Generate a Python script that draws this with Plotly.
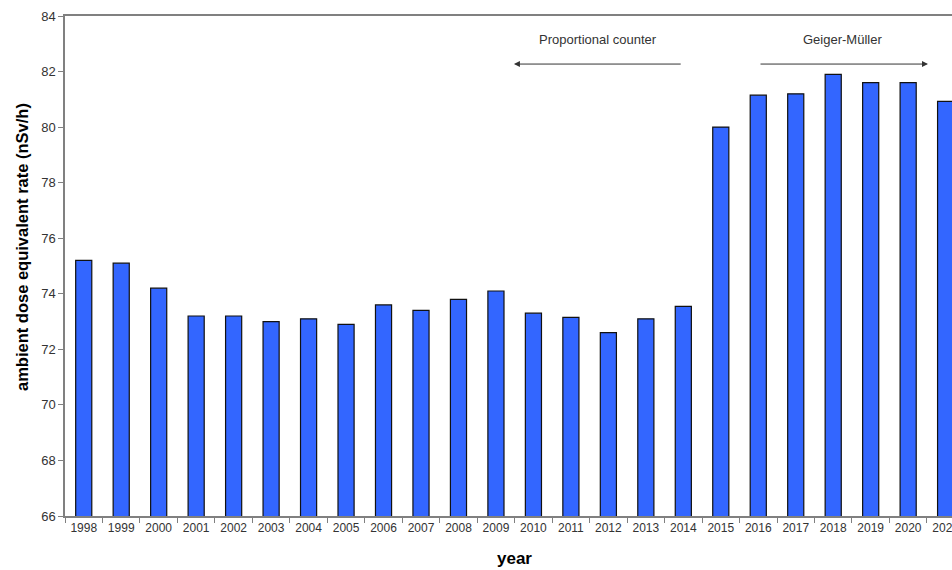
import plotly.graph_objects as go

years = [str(y) for y in range(1998, 2022)]
dose_rate = [75.2, 75.1, 74.2, 73.2, 73.2, 73.0, 73.1, 72.9, 73.6, 73.4, 73.8, 74.1,
             73.3, 73.15, 72.6, 73.1, 73.55, 80.0, 81.15, 81.2, 81.9, 81.6, 81.6, 80.93]
y_ticks = [66, 68, 70, 72, 74, 76, 78, 80, 82, 84]
switch_year = "2015"

AXIS = "#808080"
TXT = "#333333"
FONT = "Liberation Sans, Arial, sans-serif"

fig = go.Figure()
fig.add_trace(go.Bar(
    x=years, y=dose_rate, width=0.43,
    marker=dict(color="#3366FF", line=dict(color="#111111", width=1.2)),
))

fig.update_layout(
    width=952, height=570,
    margin=dict(l=65, r=0, t=16, b=54, autoexpand=False),
    plot_bgcolor="white", paper_bgcolor="white",
    showlegend=False,
    font=dict(family=FONT, color=TXT),
    xaxis=dict(
        type="category", range=[-0.5, 23.17], automargin=False,
        showline=True, linecolor=AXIS, linewidth=1.5, mirror=True,
        ticks="outside", tickson="boundaries", ticklen=5, tickcolor=AXIS, tickwidth=1,
        tickfont=dict(size=12, color=TXT, family=FONT),
        showgrid=False, zeroline=False,
    ),
    yaxis=dict(
        range=[66, 84], tickvals=y_ticks, automargin=False,
        showline=True, linecolor=AXIS, linewidth=1.5,
        ticks="outside", ticklen=5, tickcolor=AXIS, tickwidth=1,
        tickfont=dict(size=13, color=TXT, family=FONT),
        showgrid=False, zeroline=False,
    ),
)

# axis titles
fig.add_annotation(text="<b>ambient dose equivalent rate (nSv/h)</b>", xref="paper", yref="paper",
                   x=(22 - 65) / 887, y=(516 - 247) / 500, textangle=-90, showarrow=False,
                   font=dict(size=16.5, color="black", family=FONT), xanchor="center", yanchor="middle")
fig.add_annotation(text="<b>year</b>", xref="paper", yref="paper",
                   x=(514 - 65) / 887, y=-(558 - 516) / 500, showarrow=False,
                   font=dict(size=17, color="black", family=FONT), xanchor="center", yanchor="middle")

# dashed separator at detector change
fig.add_shape(type="line", xref="x", yref="y", x0=switch_year, x1=switch_year, y0=66, y1=84,
              line=dict(color="#222222", width=1, dash="dash"))

# detector labels and arrows
fig.add_annotation(text="Proportional counter", xref="x", yref="y", x=13.72, y=83.14,
                   showarrow=False, font=dict(size=13, color=TXT, family=FONT))
fig.add_annotation(text="Geiger-Müller", xref="x", yref="y", x=20.26, y=83.14,
                   showarrow=False, font=dict(size=13, color=TXT, family=FONT))
fig.add_annotation(x=11.48, y=82.27, ax=15.97, ay=82.27, xref="x", yref="y", axref="x", ayref="y",
                   text="", showarrow=True, arrowhead=2, arrowsize=1.2, arrowwidth=1, arrowcolor="#333333")
fig.add_annotation(x=22.53, y=82.27, ax=18.02, ay=82.27, xref="x", yref="y", axref="x", ayref="y",
                   text="", showarrow=True, arrowhead=2, arrowsize=1.2, arrowwidth=1, arrowcolor="#333333")

post = (
    "document.documentElement.style.margin='0';"
    "document.documentElement.style.overflow='hidden';"
    "document.body.style.margin='0';"
    "document.body.style.overflow='hidden';"
    "var gd=document.getElementById('{plot_id}');"
    "gd.style.width='952px';gd.style.height='570px';"
    "Plotly.relayout(gd,{width:952,height:570});"
)

fig.write_html("out.html", config={"displayModeBar": False, "responsive": False}, post_script=post)
